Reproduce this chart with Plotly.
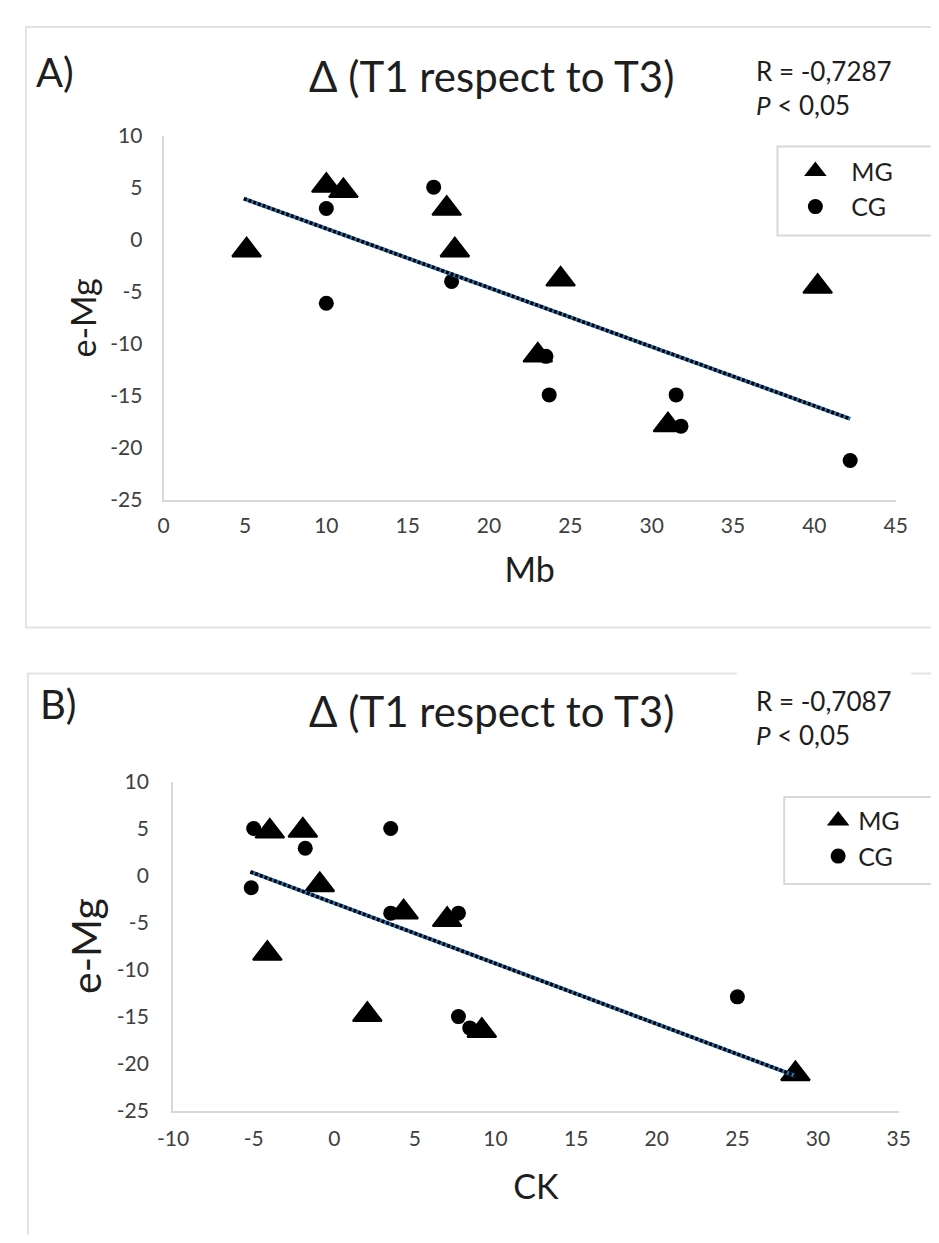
import plotly.graph_objects as go

# ---------------- Data ----------------
# Panel A: Mb (x) vs e-Mg (y)
a_mg_x = [5.1, 10.0, 11.05, 17.4, 17.9, 24.4, 23.0, 31.0, 40.2]
a_mg_y = [-1.0, 5.2, 4.7, 3.0, -1.0, -3.8, -11.1, -17.8, -4.5]
a_cg_x = [10.0, 10.0, 16.6, 17.7, 23.5, 23.7, 31.5, 31.8, 42.2]
a_cg_y = [3.0, -6.1, 5.05, -4.0, -11.2, -14.9, -14.9, -17.9, -21.2]
a_trend_x = [4.93, 42.2]
a_trend_y = [3.95, -17.2]

# Panel B: CK (x) vs e-Mg (y)
b_mg_x = [-4.0, -1.95, -0.9, 4.3, 7.0, -4.15, 2.05, 9.15, 28.6]
b_mg_y = [4.7, 4.8, -1.0, -3.9, -4.7, -8.3, -14.8, -16.5, -21.1]
b_cg_x = [-5.0, -1.8, 3.5, -5.15, 3.5, 7.7, 7.7, 8.4, 25.0]
b_cg_y = [5.0, 2.9, 5.0, -1.3, -4.0, -4.0, -15.0, -16.2, -12.9]
b_trend_x = [-5.2, 28.6]
b_trend_y = [0.4, -21.3]

a_xticks = [0, 5, 10, 15, 20, 25, 30, 35, 40, 45]
b_xticks = [-10, -5, 0, 5, 10, 15, 20, 25, 30, 35]
yticks = [10, 5, 0, -5, -10, -15, -20, -25]

# page is 939x1243; the browser keeps an 8px body margin
OFF = 8
W, H = 939 - 2 * OFF, 1243 - 2 * OFF
FONT = "Lato, 'Open Sans', sans-serif"
TXT = "#1e1e1e"
GRID = "#d9d9d9"
TICK = "#404040"


def px(x):
    return (x - OFF) / W


def py(y):
    return 1 - (y - OFF) / H


fig = go.Figure()

tri_size = 25
dot_size = 15


def add_panel(mx, my, cx, cy, tx, ty, xa, ya, lg):
    fig.add_trace(go.Scatter(x=mx, y=my, mode="markers", name="MG",
                             marker=dict(symbol="triangle-up", size=tri_size, color="black",
                                         line=dict(color="black", width=2)),
                             xaxis=xa, yaxis=ya, legend=lg))
    fig.add_trace(go.Scatter(x=cx, y=cy, mode="markers", name="CG",
                             marker=dict(symbol="circle", size=dot_size, color="black"),
                             xaxis=xa, yaxis=ya, legend=lg))
    fig.add_trace(go.Scatter(x=tx, y=ty, mode="lines", showlegend=False,
                             line=dict(color="#2e75b6", width=4), xaxis=xa, yaxis=ya,
                             hoverinfo="skip"))
    fig.add_trace(go.Scatter(x=tx, y=ty, mode="lines", showlegend=False,
                             line=dict(color="black", width=3.5, dash="3px,2px"),
                             xaxis=xa, yaxis=ya, hoverinfo="skip"))


add_panel(a_mg_x, a_mg_y, a_cg_x, a_cg_y, a_trend_x, a_trend_y, "x", "y", "legend")
add_panel(b_mg_x, b_mg_y, b_cg_x, b_cg_y, b_trend_x, b_trend_y, "x2", "y2", "legend2")


def xaxis(domain, rng, ticks, title, anchor, standoff_lbl, standoff_title, tsize):
    return dict(domain=domain, range=rng, anchor=anchor, tickmode="array", tickvals=ticks,
                ticktext=[str(t) for t in ticks], showgrid=False, zeroline=False,
                showline=True, linecolor=GRID, linewidth=2, ticks="",
                ticklabelstandoff=standoff_lbl,
                tickfont=dict(family=FONT, size=21, color=TICK),
                title=dict(text=title, font=dict(family=FONT, size=tsize, color=TXT),
                           standoff=standoff_title),
                fixedrange=True)


def yaxis(domain, anchor, title, standoff_lbl, standoff_title, tsize):
    return dict(domain=domain, range=[-25, 10], anchor=anchor, tickmode="array",
                tickvals=yticks, ticktext=[str(t) for t in yticks], showgrid=False,
                zeroline=False, showline=True, linecolor=GRID, linewidth=2, ticks="",
                ticklabelstandoff=standoff_lbl,
                tickfont=dict(family=FONT, size=21, color=TICK),
                title=dict(text=title, font=dict(family=FONT, size=tsize, color=TXT),
                           standoff=standoff_title),
                fixedrange=True)


def legend(x, y, iw):
    return dict(x=px(x), y=py(y), xanchor="left", yanchor="top",
                borderwidth=0, bgcolor="rgba(0,0,0,0)",
                font=dict(family=FONT, size=25, color=TXT), itemsizing="trace",
                itemwidth=iw, tracegroupgap=0)


fig.update_layout(
    width=W, height=H, margin=dict(l=0, r=0, t=0, b=0),
    paper_bgcolor="white", plot_bgcolor="white",
    font=dict(family=FONT, color=TXT),
    xaxis=xaxis([px(152), px(907)], [0, 45], a_xticks, "Mb", "y", 6, 22, 34),
    yaxis=yaxis([py(496), py(124)], "x", "e-Mg", 15, 3, 34),
    xaxis2=xaxis([px(161.7), px(910)], [-10, 35], b_xticks, "CK", "y2", 8, 26, 34),
    yaxis2=yaxis([py(1119.3), py(783.3)], "x2", "e-Mg", 18, 2, 41),
    legend=legend(787, 137, 62),
    legend2=legend(827, 800, 30),
    showlegend=True,
)

# Chart-area borders and legend frames
shapes = [
    dict(type="rect", xref="paper", yref="paper", x0=px(10), x1=px(960),
         y0=py(626), y1=py(13), line=dict(color="#e3e3e3", width=2), layer="below"),
    dict(type="rect", xref="paper", yref="paper", x0=px(12), x1=px(960),
         y0=py(1270), y1=py(673), line=dict(color="#e3e3e3", width=2), layer="below"),
    dict(type="rect", xref="paper", yref="paper", x0=px(743), x1=px(923),
         y0=py(677), y1=py(670), line=dict(width=0), fillcolor="white", layer="below"),
    dict(type="rect", xref="paper", yref="paper", x0=px(785), x1=px(960),
         y0=py(226), y1=py(135), line=dict(color=GRID, width=2), layer="below"),
    dict(type="rect", xref="paper", yref="paper", x0=px(792), x1=px(960),
         y0=py(888), y1=py(799), line=dict(color=GRID, width=2), layer="below"),
]
fig.update_layout(shapes=shapes)

ann = []


def text(x, y, s, size, xanchor="left"):
    ann.append(dict(xref="paper", yref="paper", x=px(x), y=py(y), text=s, showarrow=False,
                    xanchor=xanchor, yanchor="middle",
                    font=dict(family=FONT, size=size, color=TXT)))


text(18, 59, "A)", 40)
text(490, 63, "Δ (T1 respect to T3)", 42, "center")
text(761, 58, "R = -0,7287", 26)
text(761, 93, "<i>P</i> < 0,05", 26)

text(22, 704, "B)", 40)
text(490, 711, "Δ (T1 respect to T3)", 42, "center")
text(761, 701, "R = -0,7087", 26)
text(761, 736, "<i>P</i> < 0,05", 26)

fig.update_layout(annotations=ann)

fig.write_html("out.html", config={"displayModeBar": False})
